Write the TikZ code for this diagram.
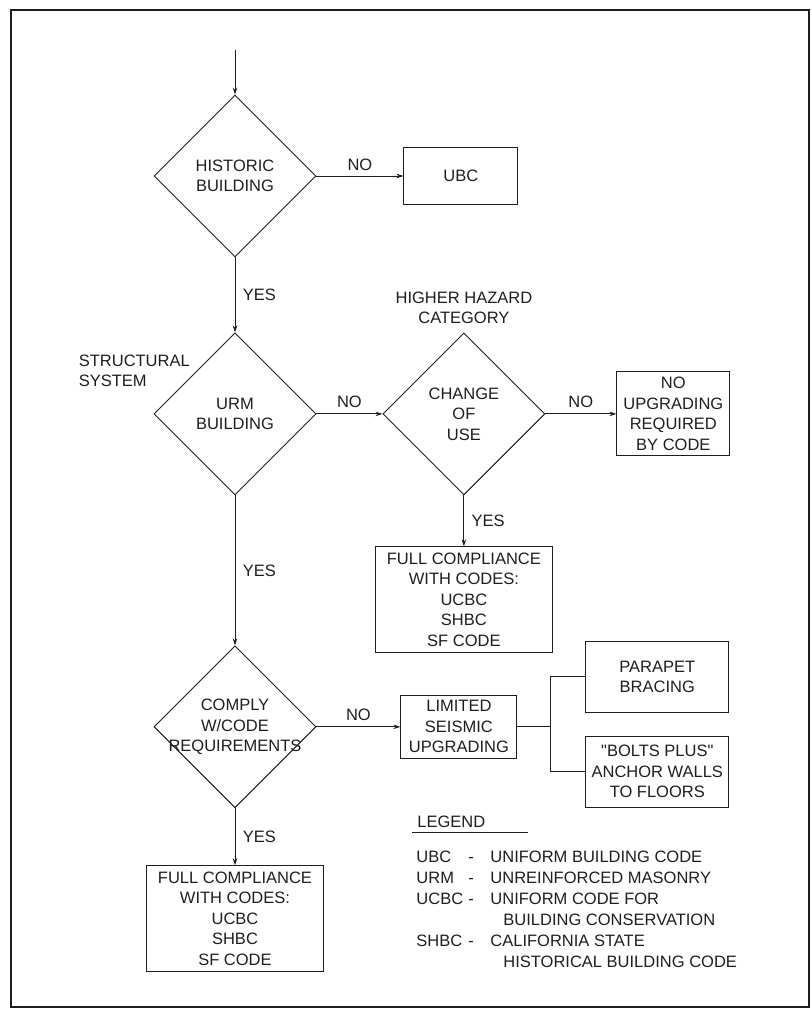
\documentclass[tikz,border=0pt]{standalone}
\usepackage{fontspec}
\setmainfont{Liberation Sans}[Ligatures=TeXOff]
\usetikzlibrary{arrows.meta,positioning,shapes.geometric}
\definecolor{InkBlack}{RGB}{30,30,30}
\tikzset{
  decision/.style={draw=InkBlack,diamond,aspect=1,inner sep=-8pt,
    minimum width=162pt,minimum height=162pt,align=center},
  codebox/.style={draw=InkBlack,rectangle,inner sep=0pt,align=center},
  fullbox/.style={codebox,minimum width=177pt,minimum height=106pt},
  fixbox/.style={codebox,minimum width=143pt,minimum height=71pt},
  flowarrow/.style={-{Stealth[length=7pt,width=4.5pt]},
    line width=0.9pt,draw=InkBlack},
  flowline/.style={line width=0.9pt,draw=InkBlack},
}

\begin{document}
\begin{tikzpicture}[font=\fontsize{16.5}{20.5}\selectfont,text=InkBlack,line width=0.9pt]
  \useasboundingbox (-235pt,176pt) rectangle (577pt,-837pt);
  \draw[line width=2pt,draw=InkBlack] (-224pt,166pt) rectangle (574pt,-831pt);
  % main chain
  \node[decision] (hist) at (0,0) {HISTORIC\\BUILDING};
  \coordinate[above=45pt of hist.north] (in);
  \node[codebox,minimum width=114pt,minimum height=57pt,right=87pt of hist] (ubc) {UBC};
  \node[decision,below=75pt of hist] (urm) {URM\\BUILDING};
  \node[anchor=south east,align=left] (sys) at ([xshift=40pt,yshift=23pt]urm.west)
    {STRUCTURAL\\SYSTEM};
  \node[decision,right=66pt of urm] (chg) {CHANGE\\OF\\USE};
  \node[above=5pt of chg.north,align=center] (haz) {HIGHER HAZARD\\CATEGORY};
  \node[codebox,minimum width=113pt,minimum height=84pt,right=71pt of chg] (noup)
    {NO\\UPGRADING\\REQUIRED\\BY CODE};
  \node[fullbox,below=51pt of chg] (full1)
    {FULL COMPLIANCE\\WITH CODES:\\UCBC\\SHBC\\SF CODE};
  \node[decision,below=150pt of urm] (comply) {COMPLY\\W/CODE\\REQUIREMENTS};
  \node[codebox,minimum width=116pt,minimum height=63pt,right=84pt of comply] (lim)
    {LIMITED\\SEISMIC\\UPGRADING};
  \coordinate[right=33pt of lim.east] (jn);
  \node[fixbox,anchor=south west,above right=14pt and 68pt of lim.east] (parapet)
    {PARAPET\\BRACING};
  \node[fixbox,anchor=north west,below right=9pt and 68pt of lim.east] (bolts)
    {"BOLTS PLUS"\\ANCHOR WALLS\\TO FLOORS};
  \node[fullbox,below=57pt of comply] (full2)
    {FULL COMPLIANCE\\WITH CODES:\\UCBC\\SHBC\\SF CODE};
  % connectors
  \draw[flowarrow] (in) -- (hist.north);
  \draw[flowarrow] (hist.east) -- node[above=2pt] {NO} (ubc.west);
  \draw[flowarrow] (hist.south) -- node[right=4pt] {YES} (urm.north);
  \draw[flowarrow] (urm.east) -- node[above=2pt] {NO} (chg.west);
  \draw[flowarrow] (chg.east) -- node[above=2pt] {NO} (noup.west);
  \draw[flowarrow] (chg.south) -- node[right=4pt] {YES} (full1.north);
  \draw[flowarrow] (urm.south) -- node[right=4pt] {YES} (comply.north);
  \draw[flowarrow] (comply.east) -- node[above=2pt] {NO} (lim.west);
  \draw[flowarrow] (comply.south) -- node[right=4pt] {YES} (full2.north);
  \draw[flowline] (lim.east) -- (jn);
  \draw[flowline] (jn) |- (parapet.west);
  \draw[flowline] (jn) |- (bolts.west);
  % legend
  \node[anchor=base west,inner sep=0pt] (leg) at (182pt,-651pt) {LEGEND};
  \draw[flowline] ([shift={(-5pt,-5pt)}]leg.base west) -- ++(116pt,0);
  \node[anchor=north west,inner sep=0pt,align=left,
    font=\fontsize{16.5}{21}\selectfont] (legtxt) at (181pt,-675pt)
    {\makebox[52pt][l]{UBC}\makebox[22pt][l]{-}UNIFORM BUILDING CODE\\
     \makebox[52pt][l]{URM}\makebox[22pt][l]{-}UNREINFORCED MASONRY\\
     \makebox[52pt][l]{UCBC}\makebox[22pt][l]{-}UNIFORM CODE FOR\\
     \hspace*{87pt}BUILDING CONSERVATION\\
     \makebox[52pt][l]{SHBC}\makebox[22pt][l]{-}CALIFORNIA STATE\\
     \hspace*{87pt}HISTORICAL BUILDING CODE};
\end{tikzpicture}
\end{document}
